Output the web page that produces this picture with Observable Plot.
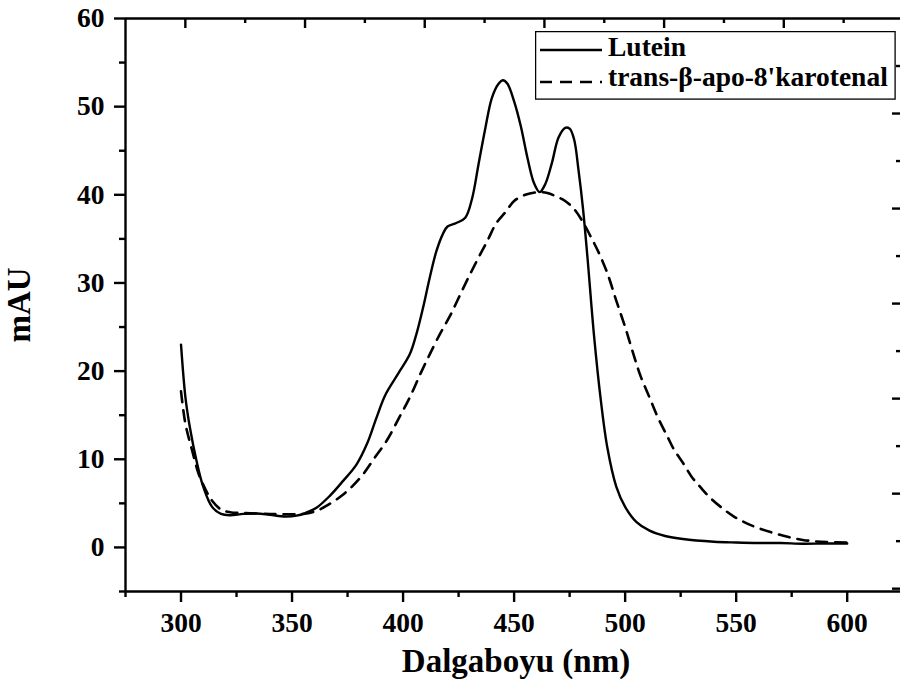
<!DOCTYPE html>
<html>
<head>
<meta charset="utf-8">
<script src="https://cdn.jsdelivr.net/npm/d3@7"></script>
<script src="https://cdn.jsdelivr.net/npm/@observablehq/plot@0.6"></script>
<style>
  html, body { margin: 0; padding: 0; background: #fff; }
  #wrap { position: relative; width: 900px; height: 691px; overflow: hidden; }
  #legend { position: absolute; left: 535px; top: 31px; }
  svg text { font-family: "Liberation Serif", "Times New Roman", serif; font-weight: bold; }
</style>
</head>
<body>
<div id="wrap"></div>
<script>
// UV-Vis absorption spectra (wavelength in nm, absorbance in mAU)
const luteinWl = [300, 302, 304, 307, 310, 314, 318, 322, 328, 334, 340, 347, 352, 356, 361, 367, 373, 379, 384, 388, 392, 398, 403, 406, 409, 412, 415, 418, 420, 424, 428, 431, 434, 437, 440, 443, 445, 447, 450, 453, 456, 459, 461.5, 464, 467, 470, 473, 475, 477, 479, 481, 483, 486, 489, 492, 496, 500, 505, 511, 518, 526, 540, 550, 560, 570, 580, 590, 600];
const luteinAbs = [23.0, 17.0, 13.6, 9.8, 6.9, 4.6, 3.8, 3.65, 3.8, 3.85, 3.7, 3.5, 3.6, 3.9, 4.5, 5.85, 7.55, 9.4, 11.9, 14.7, 17.3, 19.8, 21.9, 24.2, 27.2, 30.6, 33.6, 35.6, 36.4, 36.8, 37.4, 39.5, 43.5, 47.5, 51.0, 52.6, 53.0, 52.6, 50.6, 47.8, 44.2, 41.3, 40.3, 41.2, 43.6, 46.5, 47.6, 47.5, 46.3, 42.8, 38.5, 33.0, 24.0, 16.8, 11.3, 6.9, 4.6, 2.9, 1.9, 1.3, 0.95, 0.65, 0.56, 0.5, 0.5, 0.42, 0.45, 0.45];

const apoWl = [300, 302, 305, 308, 311, 314, 318, 322, 328, 340, 350, 355, 361, 366, 372, 377, 382, 387, 392.6, 398, 403, 408, 412, 417, 421, 425, 429, 433, 438, 442, 446, 450, 455, 461, 465, 469, 473, 477, 481, 484, 488, 492, 496, 500, 504, 507, 511, 515, 519, 522, 526, 530, 534, 538, 543, 549, 555, 561, 568, 574, 580, 586, 592, 600];
const apoAbs = [17.7, 14.0, 11.0, 8.3, 6.6, 5.3, 4.3, 4.0, 3.9, 3.8, 3.75, 3.8, 4.15, 4.8, 5.8, 6.9, 8.3, 10.1, 12.1, 14.6, 17.0, 19.8, 21.9, 24.4, 26.2, 28.3, 30.4, 32.4, 34.8, 36.8, 38.0, 39.3, 40.0, 40.3, 40.2, 39.8, 39.3, 38.4, 36.9, 35.5, 33.5, 31.1, 28.0, 25.0, 21.7, 19.4, 17.0, 14.6, 12.6, 11.1, 9.6, 8.0, 6.8, 5.7, 4.6, 3.5, 2.7, 2.1, 1.55, 1.15, 0.85, 0.68, 0.6, 0.55];

const seriesNames = ["Lutein", "trans-β-apo-8'karotenal"];

// axis ticks (bottom/left layer)
const xMajor = [300, 350, 400, 450, 500, 550, 600];
const xMinor = [275, 325, 375, 425, 475, 525, 575];
const yMajor = [0, 10, 20, 30, 40, 50, 60];
const yMinor = [-5, 5, 15, 25, 35, 45, 55];

// ticks of the top/right layer, which is drawn at a slightly larger scale
const layerScale = 1.078;
const topMajor = [300, 350, 400, 450, 500, 550];
const topMinor = [325, 375, 425, 475, 525, 575];
const rightMajor = [50, 40, 30, 20, 10, 0];
const rightMinor = [55, 45, 35, 25, 15, 5];

const xLabel = "Dalgaboyu (nm)";
const yLabel = "mAU";

const lutein = luteinWl.map((w, i) => ({w, v: luteinAbs[i]}));
const apo = apoWl.map((w, i) => ({w, v: apoAbs[i]}));

const W = 900, H = 691, mL = 125, mR = 0, mT = 18, mB = 100;
const frameW = W - mL - mR, frameH = H - mT - mB;
const xDomain = [275, 624], yDomain = [-5, 60];
const topX = v => xDomain[0] + (v - xDomain[0]) * layerScale;
const rightY = v => yDomain[1] - (yDomain[1] - v) * layerScale;

// tick lengths are given in pixels and converted to data units
const pxX = frameW / (xDomain[1] - xDomain[0]);
const pxY = frameH / (yDomain[1] - yDomain[0]);
const majorLen = 11, minorLen = 6, tickW = 2.4;

const font = {fontFamily: "Liberation Serif", fontWeight: "bold"};

const chart = Plot.plot({
  width: W, height: H,
  marginLeft: mL, marginRight: mR, marginTop: mT, marginBottom: mB,
  style: {background: "white", color: "black", fontFamily: "Liberation Serif", fontWeight: "bold", overflow: "visible"},
  x: {domain: xDomain, label: null, axis: null},
  y: {domain: yDomain, label: null, axis: null},
  marks: [
    // tick labels
    Plot.text(yMajor, {y: d => d, text: d => String(d), frameAnchor: "left", textAnchor: "end", dx: -21, fontSize: 27.5, ...font}),
    Plot.text(xMajor, {x: d => d, text: d => String(d), frameAnchor: "bottom", lineAnchor: "top", dy: 21, fontSize: 27.5, ...font}),
    // frame lines
    Plot.ruleX([xDomain[0]], {y1: yDomain[0], y2: yDomain[1], stroke: "black", strokeWidth: 2.4}),
    Plot.ruleY([yDomain[0]], {x1: xDomain[0], x2: xDomain[1], stroke: "black", strokeWidth: 2.4}),
    Plot.ruleY([yDomain[1]], {x1: xDomain[0], x2: xDomain[1], stroke: "black", strokeWidth: 2.4}),
    // left axis ticks, pointing outward
    Plot.ruleY(yMajor, {y: d => d, x1: xDomain[0] - majorLen / pxX, x2: xDomain[0], stroke: "black", strokeWidth: tickW}),
    Plot.ruleY(yMinor, {y: d => d, x1: xDomain[0] - minorLen / pxX, x2: xDomain[0], stroke: "black", strokeWidth: tickW}),
    // bottom axis ticks, pointing outward
    Plot.ruleX(xMajor, {x: d => d, y1: yDomain[0] - majorLen / pxY, y2: yDomain[0], stroke: "black", strokeWidth: tickW}),
    Plot.ruleX(xMinor, {x: d => d, y1: yDomain[0] - minorLen / pxY, y2: yDomain[0], stroke: "black", strokeWidth: tickW}),
    // top-layer ticks pointing inward
    Plot.ruleX(topMajor, {x: topX, y1: yDomain[1], y2: yDomain[1] - 10 / pxY, stroke: "black", strokeWidth: tickW}),
    Plot.ruleX(topMinor, {x: topX, y1: yDomain[1], y2: yDomain[1] - 5 / pxY, stroke: "black", strokeWidth: tickW}),
    // right-layer ticks pointing inward
    Plot.ruleY(rightMajor, {y: rightY, x1: xDomain[1] - 8 / pxX, x2: xDomain[1], stroke: "black", strokeWidth: tickW}),
    Plot.ruleY(rightMinor, {y: rightY, x1: xDomain[1] - 4 / pxX, x2: xDomain[1], stroke: "black", strokeWidth: tickW}),
    // spectra
    Plot.line(apo, {x: "w", y: "v", curve: "catmull-rom", stroke: "black", strokeWidth: 2.6, strokeDasharray: "11,8"}),
    Plot.line(lutein, {x: "w", y: "v", curve: "catmull-rom", stroke: "black", strokeWidth: 2.4}),
    // axis titles
    Plot.text([xLabel], {frameAnchor: "bottom", textAnchor: "middle", dx: 3, dy: 80, fontSize: 33, ...font}),
    Plot.text([yLabel], {frameAnchor: "left", textAnchor: "middle", rotate: -90, dx: -106, fontSize: 33, ...font})
  ]
});

const wrap = document.getElementById("wrap");
wrap.appendChild(chart);

// legend box
const lg = d3.create("svg").attr("id", "legend").attr("width", 362).attr("height", 70);
lg.append("rect").attr("x", 0.6).attr("y", 0.6).attr("width", 359.5).attr("height", 67.5)
  .attr("fill", "white").attr("stroke", "black").attr("stroke-width", 1.3);
const rows = [
  {name: seriesNames[0], dash: null, y: 19, base: 25},
  {name: seriesNames[1], dash: "12,8", y: 51, base: 55}
];
for (const r of rows) {
  const ln = lg.append("line").attr("x1", 5).attr("x2", 67).attr("y1", r.y).attr("y2", r.y)
    .attr("stroke", "black").attr("stroke-width", 2.6);
  if (r.dash) ln.attr("stroke-dasharray", r.dash);
  lg.append("text").attr("x", 73).attr("y", r.base).attr("font-size", 27.5).text(r.name);
}
wrap.appendChild(lg.node());
</script>
</body>
</html>
